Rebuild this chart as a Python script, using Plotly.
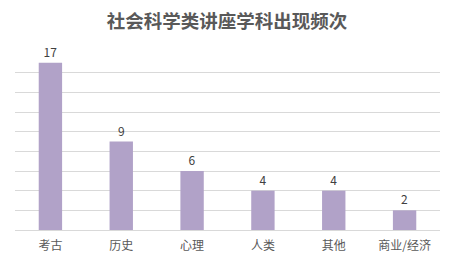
import plotly.graph_objects as go

categories = ["考古", "历史", "心理", "人类", "其他", "商业/经济"]
counts = [17, 9, 6, 4, 4, 2]
title_text = "社会科学类讲座学科出现频次"

fig = go.Figure(go.Bar(
    x=categories, y=counts,
    marker=dict(color="#b1a2c8", line=dict(width=0)),
    width=0.33,
    text=[str(v) for v in counts], textposition="outside",
    textfont=dict(family="Noto Sans CJK SC", size=12, color="#404040"),
    cliponaxis=False,
))
fig.update_layout(
    width=454, height=265,
    margin=dict(l=15, r=14, t=53, b=33),
    paper_bgcolor="white", plot_bgcolor="white",
    showlegend=False,
    title=dict(text=title_text, x=0.5, xanchor="center", y=1 - 22/265, yanchor="middle",
               font=dict(family="Noto Sans CJK SC", size=18.5, color="#595959", weight="bold")),
    xaxis=dict(showline=True, linecolor="#d9d9d9", linewidth=1, ticks="",
               ticklabelstandoff=5,
               tickfont=dict(family="Noto Sans CJK SC", size=12, color="#595959"),
               fixedrange=True),
    yaxis=dict(range=[0, 18], dtick=2, showticklabels=False, showgrid=True,
               gridcolor="#d9d9d9", gridwidth=1, zeroline=False, fixedrange=True),
)
fig.write_html("out.html")
